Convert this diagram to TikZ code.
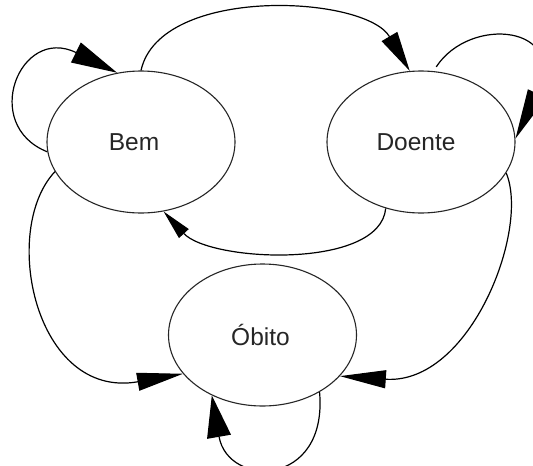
\documentclass[tikz,border=0pt]{standalone}
\usepackage{fontspec}
\setmainfont{Liberation Sans}
\usetikzlibrary{shapes.geometric,arrows.meta}
\begin{document}
\begin{tikzpicture}[x=1pt,y=-1pt,
  state/.style={draw=black!85, line width=1.1pt, ellipse, minimum width=188pt, minimum height=142pt, inner sep=0pt, text=black!85, font=\fontsize{24.5}{29}\selectfont},
  edge/.style={draw=black, line width=1.2pt},
  tipA/.style={-{Triangle[length=46pt,width=22pt]}},
  tipB/.style={-{Triangle[length=40pt,width=18pt]}},
  tipC/.style={-{Triangle[length=50pt,width=20pt]}},
  tipD/.style={-{Triangle[length=30pt,width=13pt]}},
  tipE/.style={-{Triangle[length=46pt,width=18pt]}},
  tipF/.style={-{Triangle[length=42pt,width=24pt]}}]
\useasboundingbox (0,0) rectangle (533,466);
\clip (0,0) rectangle (533,466);
\fill[white] (0,0) rectangle (533,466);
\node[state] (bem) at (141,142) {\hspace*{-14pt}Bem};
\node[state] (doente) at (421,142) {\hspace*{-10pt}Doente};
\node[state] (obito) at (262.5,335) {\hspace*{-4pt}Óbito};
% Bem self loop
\draw[edge,tipA] (bem.186) .. controls (-20,125) and (20,25) .. (bem.109);
% Bem -> Doente
\draw[edge,tipB] (bem.90) .. controls (160,-15) and (365,-5) .. (doente.99);
% Doente self loop
\draw[edge,tipC,shorten <=5pt] (doente.80) .. controls (470,15) and (570,25) .. (doente.2);
% Doente -> Bem
\draw[edge,tipD] (doente.242) .. controls (380,270) and (210,262) .. (bem.288);
% Bem -> Obito
\draw[edge,tipE] (bem.199) .. controls (0,230) and (35,400) .. (obito.206);
% Doente -> Obito
\draw[edge,tipE] (doente.340) .. controls (530,230) and (470,385) .. (obito.332);
% Obito self loop
\draw[edge,tipF] (obito.315) .. controls (328,488) and (228,488) .. (obito.230);
\end{tikzpicture}
\end{document}
